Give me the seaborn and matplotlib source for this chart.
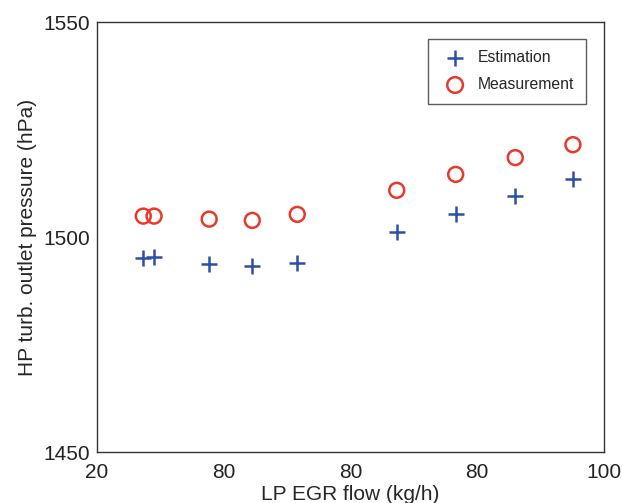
import matplotlib
matplotlib.use('Agg')
import matplotlib.pyplot as plt
import pandas as pd
import seaborn as sns

# LP EGR flow (kg/h)
egr_flow = [27.3, 29.0, 37.7, 44.5, 51.6, 67.3, 76.6, 86.0, 95.1]
# HP turbine outlet pressure (hPa)
estimation = [1495.1, 1495.3, 1493.8, 1493.3, 1494.0, 1501.2, 1505.3, 1509.6, 1513.5]
measurement = [1504.9, 1504.9, 1504.2, 1503.9, 1505.3, 1510.9, 1514.6, 1518.5, 1521.5]

x_ticks = [20, 40, 60, 80, 100]
x_tick_labels = ['20', '80', '80', '80', '100']
y_ticks = [1450, 1500, 1550]


def main():
    sns.set_style('white')
    plt.rcParams['font.family'] = ['Liberation Sans', 'DejaVu Sans']

    df = pd.DataFrame({'flow': egr_flow, 'est': estimation, 'meas': measurement})

    fig = plt.figure(figsize=(6.22, 5.03), dpi=100)
    ax = fig.add_axes([0.156, 0.101, 0.815, 0.855])

    sns.scatterplot(data=df, x='flow', y='est', marker='+', s=120,
                    color='#2e4fa6', linewidth=1.8, label='Estimation', ax=ax)
    sns.scatterplot(data=df, x='flow', y='meas', marker='o', s=115,
                    facecolors='none', edgecolor='#e8392a', linewidth=1.8,
                    label='Measurement', ax=ax)

    ax.set_xlim(20, 100)
    ax.set_ylim(1450, 1550)
    ax.set_xticks(x_ticks)
    ax.set_xticklabels(x_tick_labels)
    ax.set_yticks(y_ticks)
    ax.tick_params(direction='in', length=6, width=1, labelsize=15,
                   colors='#222222')
    ax.tick_params(axis='x', pad=8)
    ax.tick_params(axis='y', pad=5)
    ax.set_xlabel('LP EGR flow (kg/h)', fontsize=15, labelpad=2)
    ax.set_ylabel('HP turb. outlet pressure (hPa)', fontsize=15, labelpad=4.5)

    for sp in ax.spines.values():
        sp.set_color('#333333')
        sp.set_linewidth(1.0)

    leg = ax.legend(loc='upper right', bbox_to_anchor=(0.98, 0.98),
                    fontsize=11.3, frameon=True, fancybox=False,
                    borderpad=0.75, handletextpad=0.45, labelspacing=0.75,
                    markerscale=1.05)
    leg.get_frame().set_edgecolor('#333333')
    leg.get_frame().set_linewidth(1.0)

    fig.savefig('out.png', dpi=100)


if __name__ == '__main__':
    main()
